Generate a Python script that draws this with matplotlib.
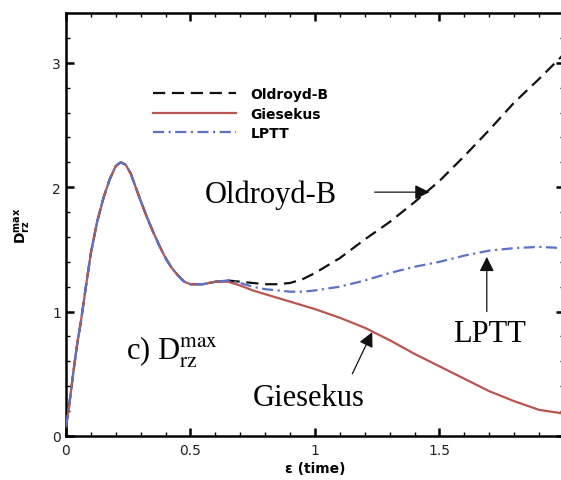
import numpy as np
import matplotlib
matplotlib.use("Agg")
import matplotlib.pyplot as plt
from matplotlib.ticker import MultipleLocator

# shared start-up transient (all three models coincide)
t_common = [0, 0.01, 0.02, 0.03, 0.045, 0.06, 0.08, 0.1, 0.125, 0.15, 0.175, 0.2, 0.22,
            0.24, 0.26, 0.28, 0.3, 0.325, 0.35, 0.375, 0.4, 0.425, 0.45, 0.475, 0.5,
            0.55, 0.6]
d_common = [0.08, 0.2, 0.36, 0.52, 0.74, 0.92, 1.20, 1.47, 1.72, 1.91, 2.06, 2.17, 2.20,
            2.18, 2.11, 2.00, 1.89, 1.76, 1.64, 1.53, 1.43, 1.35, 1.29, 1.24, 1.22,
            1.22, 1.24]

# branches after the curves separate
t_branch = [0.65, 0.7, 0.75, 0.8, 0.85, 0.9, 0.95, 1.0, 1.1, 1.2, 1.3, 1.4, 1.5, 1.6,
            1.7, 1.8, 1.9, 2.0]
d_oldroyd = [1.25, 1.24, 1.23, 1.22, 1.22, 1.23, 1.26, 1.31, 1.43, 1.58, 1.72, 1.88,
             2.05, 2.25, 2.46, 2.68, 2.87, 3.07]
d_giesekus = [1.24, 1.21, 1.17, 1.14, 1.11, 1.08, 1.05, 1.02, 0.95, 0.87, 0.77, 0.66,
              0.56, 0.46, 0.36, 0.28, 0.21, 0.18]
d_lptt = [1.25, 1.23, 1.20, 1.18, 1.17, 1.16, 1.16, 1.17, 1.20, 1.25, 1.31, 1.36,
          1.40, 1.45, 1.49, 1.51, 1.52, 1.51]

t_all = np.array(t_common + t_branch)
oldroyd = np.array(d_common + d_oldroyd)
giesekus = np.array(d_common + d_giesekus)
lptt = np.array(d_common + d_lptt)

plt.rcParams['mathtext.fontset'] = 'stix'

fig = plt.figure(figsize=(5.61, 4.81), dpi=100)
ax = fig.add_axes([0.1176, 0.0915, 0.8877, 0.8794])

lw = 1.6
ax.plot(t_all, giesekus, color='#b9564d', lw=lw, label='Giesekus', zorder=3)
ax.plot(t_all, oldroyd, color='#111111', lw=lw, dashes=(5.5, 3), label='Oldroyd-B', zorder=2)
ax.plot(t_all, lptt, color='#5b72c6', lw=lw, dashes=(5, 2, 1, 2), label='LPTT', zorder=4)

ax.set_xlim(0, 2)
ax.set_ylim(0, 3.4)
ax.xaxis.set_major_locator(MultipleLocator(0.5))
ax.xaxis.set_minor_locator(MultipleLocator(0.1))
ax.yaxis.set_major_locator(MultipleLocator(1))
ax.yaxis.set_minor_locator(MultipleLocator(0.2))
ax.tick_params(which='both', direction='in', top=True, right=True, labelsize=10,
               labelcolor='#222222')
ax.tick_params(which='major', length=6, width=1.8)
ax.tick_params(which='minor', length=3, width=1.0)
ax.tick_params(axis='x', pad=5)
for s in ax.spines.values():
    s.set_linewidth(1.8)
ax.set_xticks([0, 0.5, 1, 1.5])
ax.set_xticklabels(['0', '0.5', '1', '1.5'])
ax.set_yticks([0, 1, 2, 3])

ax.set_xlabel('\u03b5 (time)', fontsize=10, fontweight='bold', labelpad=3)
ax.set_ylabel(r'$\mathbf{D}_{\mathbf{rz}}^{\mathbf{max}}$', fontsize=10,
              math_fontfamily='dejavusans', labelpad=14)

# legend in the order shown
h, l = ax.get_legend_handles_labels()
order = [1, 0, 2]
ax.legend([h[i] for i in order], [l[i] for i in order], loc='upper left',
          bbox_to_anchor=(0.175, 0.825), frameon=False, handlelength=6.0,
          handletextpad=1.0, labelspacing=0.4, borderpad=0, borderaxespad=0,
          prop={'weight': 'bold', 'size': 10})

serif = {'family': 'Liberation Serif', 'size': 22}
ax.text(0.558, 1.94, 'Oldroyd-B', ha='left', va='center', fontdict=serif)
ax.text(1.70, 0.82, 'LPTT', ha='center', va='center', fontdict=serif)
ax.text(0.976, 0.31, 'Giesekus', ha='center', va='center', fontdict=serif)
ax.text(0.24, 0.62, r'c) D$_{\rm rz}^{\rm max}$', ha='left', va='baseline', fontdict=serif)

arrow = dict(arrowstyle='-|>', mutation_scale=22, lw=0.9, color='#111111',
             shrinkA=0, shrinkB=0)
ax.annotate('', xy=(1.46, 1.96), xytext=(1.24, 1.96), arrowprops=arrow)
ax.annotate('', xy=(1.69, 1.44), xytext=(1.69, 1.0), arrowprops=arrow)
ax.annotate('', xy=(1.23, 0.835), xytext=(1.15, 0.50), arrowprops=arrow)

fig.savefig('out.png', dpi=100)
